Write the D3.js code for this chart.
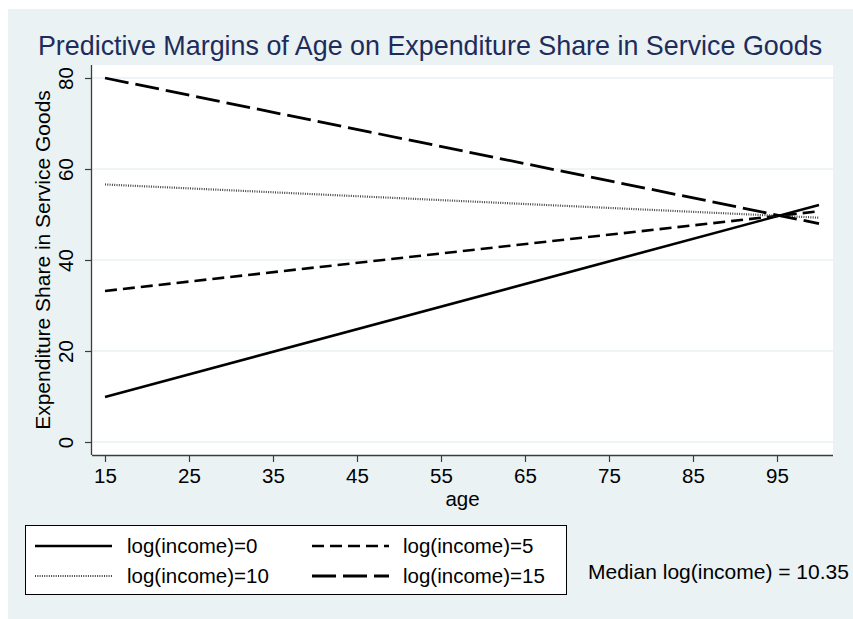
<!DOCTYPE html>
<html>
<head>
<meta charset="utf-8">
<script src="https://cdn.jsdelivr.net/npm/d3@7"></script>
<style>
  html, body { margin: 0; padding: 0; background: #ffffff; }
  svg { display: block; font-family: "Liberation Sans", Arial, Helvetica, sans-serif; }
</style>
</head>
<body>
<svg id="chart" width="853" height="619"></svg>
<script>
// Predicted expenditure share by age at four income levels
const ages = [15, 100];
const seriesLabels = ["log(income)=0", "log(income)=5", "log(income)=10", "log(income)=15"];
const income0 = [9.9, 52.1];
const income5 = [33.2, 50.7];
const income10 = [56.6, 49.3];
const income15 = [80.0, 48.0];
const xTicks = [15, 25, 35, 45, 55, 65, 75, 85, 95];
const yTicks = [0, 20, 40, 60, 80];
const titleText = "Predictive Margins of Age on Expenditure Share in Service Goods";
const xTitle = "age";
const yTitle = "Expenditure Share in Service Goods";
const noteText = "Median log(income) = 10.35";

const seriesValues = [income0, income5, income10, income15];
const lineStyles = [
  { dash: null, width: 2.6, color: "#000" },
  { dash: "12,6", width: 2.6, color: "#000" },
  { dash: "1,1.3", width: 2.2, color: "#444" },
  { dash: "24,7", width: 2.8, color: "#000" }
];

const svg = d3.select("#chart");
const bg = "#EAF2F3";

// graph region
svg.append("rect").attr("x", 8).attr("y", 9).attr("width", 845).attr("height", 610).attr("fill", bg);

const plot = { left: 92, right: 833, top: 65, bottom: 455 };
svg.append("rect")
  .attr("x", plot.left).attr("y", plot.top)
  .attr("width", plot.right - plot.left).attr("height", plot.bottom - plot.top)
  .attr("fill", "#fff");

const x = d3.scaleLinear().domain([15, 100]).range([105, 819]);
const y = d3.scaleLinear().domain([0, 80]).range([442, 78]);

// gridlines
svg.append("g").selectAll("line").data(yTicks).join("line")
  .attr("x1", plot.left).attr("x2", plot.right)
  .attr("y1", d => y(d)).attr("y2", d => y(d))
  .attr("stroke", bg).attr("stroke-width", 1.5);

// axes
const xAxis = svg.append("g").attr("transform", `translate(0,${plot.bottom})`)
  .call(d3.axisBottom(x).tickValues(xTicks).tickSize(7).tickPadding(6).tickFormat(d3.format("d")));
xAxis.select(".domain").attr("d", `M${plot.left},0.5H${plot.right}`).attr("stroke", "#3c3c3c").attr("stroke-width", 1.3);
xAxis.selectAll(".tick line").attr("stroke", "#3c3c3c").attr("stroke-width", 1.2);
xAxis.selectAll(".tick text").attr("font-size", 20.5).attr("fill", "#000")
  .attr("font-family", "Liberation Sans, Arial, sans-serif");

const yAxis = svg.append("g").attr("transform", `translate(${plot.left},0)`)
  .call(d3.axisLeft(y).tickValues(yTicks).tickSize(7).tickFormat(d3.format("d")));
yAxis.select(".domain").attr("d", `M-0.5,${plot.top}V${plot.bottom}`).attr("stroke", "#3c3c3c").attr("stroke-width", 1.3);
yAxis.selectAll(".tick line").attr("stroke", "#3c3c3c").attr("stroke-width", 1.2);
yAxis.selectAll(".tick text")
  .attr("font-size", 20.5).attr("fill", "#000")
  .attr("font-family", "Liberation Sans, Arial, sans-serif")
  .attr("x", null).attr("dy", null)
  .attr("text-anchor", "middle")
  .attr("transform", "translate(-19,0) rotate(-90)");

// axis titles
svg.append("text").attr("x", (plot.left + plot.right) / 2).attr("y", 506)
  .attr("text-anchor", "middle").attr("font-size", 20.5).text(xTitle);
svg.append("text")
  .attr("transform", `translate(50,${(y(0) + y(80)) / 2}) rotate(-90)`)
  .attr("text-anchor", "middle").attr("font-size", 21).text(yTitle);

// chart title
svg.append("text")
  .attr("transform", "translate(430,55) scale(0.96,1)")
  .attr("text-anchor", "middle").attr("font-size", 28).attr("fill", "#1E2C5C").text(titleText);

// series lines
const line = d3.line().x((d, i) => x(ages[i])).y(d => y(d));
svg.append("g").selectAll("path").data(seriesValues).join("path")
  .attr("d", d => line(d))
  .attr("fill", "none")
  .attr("stroke", (d, i) => lineStyles[i].color)
  .attr("stroke-width", (d, i) => lineStyles[i].width)
  .attr("stroke-dasharray", (d, i) => lineStyles[i].dash);

// legend
const legend = svg.append("g");
legend.append("rect").attr("x", 25.5).attr("y", 525.5).attr("width", 541).attr("height", 69)
  .attr("fill", "#fff").attr("stroke", "#000").attr("stroke-width", 1);
const legendPos = [
  { sx: 35, tx: 127, y: 546 },
  { sx: 312, tx: 403, y: 546 },
  { sx: 35, tx: 127, y: 576 },
  { sx: 312, tx: 403, y: 576 }
];
seriesLabels.forEach((lab, i) => {
  const p = legendPos[i];
  legend.append("line").attr("x1", p.sx).attr("x2", p.sx + 77).attr("y1", p.y).attr("y2", p.y)
    .attr("stroke", lineStyles[i].color).attr("stroke-width", lineStyles[i].width)
    .attr("stroke-dasharray", lineStyles[i].dash);
  legend.append("text").attr("x", p.tx).attr("y", p.y + 7).attr("font-size", 20.5).text(lab);
});

// note
svg.append("text").attr("x", 588).attr("y", 579).attr("font-size", 21).text(noteText);
</script>
</body>
</html>
